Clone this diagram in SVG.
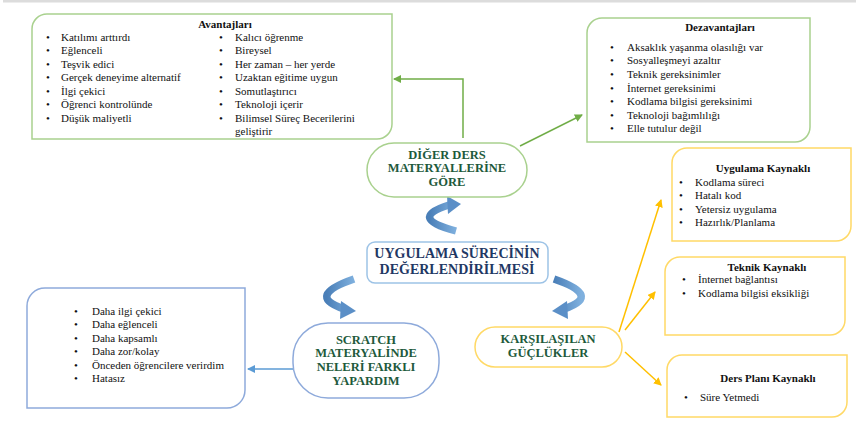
<svg xmlns="http://www.w3.org/2000/svg" width="856" height="421" viewBox="0 0 856 421">
<style>
.t{font-family:"Liberation Serif","Times New Roman",serif;font-size:11px;fill:#111}
.h{font-family:"Liberation Serif","Times New Roman",serif;font-size:11px;font-weight:bold;fill:#111}
.ng{font-family:"Liberation Serif","Times New Roman",serif;font-size:12.5px;font-weight:bold;fill:#1e5a3c;text-anchor:middle}
.nb{font-family:"Liberation Serif","Times New Roman",serif;font-size:14px;font-weight:bold;fill:#1f3864;text-anchor:middle}
.gb{fill:#fff;stroke:#a9d18e;stroke-width:1.5}
.yb{fill:#fff;stroke:#ffd966;stroke-width:1.5}
.bb{fill:#fff;stroke:#8eaadb;stroke-width:1.5}
.ga{stroke:#70ad47;stroke-width:1.5;fill:none}
.ya{stroke:#ffc000;stroke-width:1.5;fill:none}
.ba{stroke:#5b9bd5;stroke-width:1.5;fill:none}
.ca{fill:none;stroke:url(#cg);stroke-width:7.5}
.ch{fill:#5b8fc7}
</style>
<defs>
<marker id="mg" markerWidth="8" markerHeight="8" refX="7" refY="4" orient="auto" markerUnits="userSpaceOnUse"><path d="M0,0 L8,4 L0,8 Z" fill="#70ad47"/></marker>
<marker id="my" markerWidth="8" markerHeight="8" refX="7" refY="4" orient="auto" markerUnits="userSpaceOnUse"><path d="M0,0 L8,4 L0,8 Z" fill="#ffc000"/></marker>
<marker id="mb" markerWidth="8" markerHeight="8" refX="7" refY="4" orient="auto" markerUnits="userSpaceOnUse"><path d="M0,0 L8,4 L0,8 Z" fill="#5b9bd5"/></marker>
<linearGradient id="cg" x1="0" y1="0" x2="1" y2="0"><stop offset="0" stop-color="#4a7fb8"/><stop offset="1" stop-color="#7fb0de"/></linearGradient>
</defs>
<rect x="3" y="0" width="853" height="2.5" fill="#dcdcdc"/>

<g id="connectors">
<polyline class="ga" points="463,138 463,79 394,79" marker-end="url(#mg)"/>
<line class="ga" x1="520" y1="146" x2="582" y2="115" marker-end="url(#mg)"/>
<line class="ya" x1="619" y1="332" x2="661" y2="200" marker-end="url(#my)"/>
<line class="ya" x1="625" y1="330" x2="655" y2="292" marker-end="url(#my)"/>
<line class="ya" x1="625" y1="352" x2="661" y2="385" marker-end="url(#my)"/>
<line class="ba" x1="293" y1="369" x2="248" y2="369" marker-end="url(#mb)"/>
<path class="ca" d="M456,231 Q407,218 449,205"/>
<path class="ch" d="M447,196 L461,204 L448,214 Z"/>
<path class="ca" d="M354,279 Q305,296 344,309"/>
<path class="ch" d="M341,301 L356,311 L340,319 Z"/>
<path class="ca" d="M554,279 Q603,296 564,309"/>
<path class="ch" d="M567,301 L552,311 L568,319 Z"/>
</g>

<g id="avantajlari">
<path class="gb" d="M47,14 H392 V124 A15,15 0 0 1 377,139 H32 V29 A15,15 0 0 1 47,14 Z"/>
<text class="h" x="225" y="28" text-anchor="middle">Avantajları</text>
<g class="t">
<text x="46" y="41">•</text><text x="61" y="41">Katılımı arttırdı</text>
<text x="46" y="54">•</text><text x="61" y="54">Eğlenceli</text>
<text x="46" y="68">•</text><text x="61" y="68">Teşvik edici</text>
<text x="46" y="81">•</text><text x="61" y="81">Gerçek deneyime alternatif</text>
<text x="46" y="95">•</text><text x="61" y="95">İlgi çekici</text>
<text x="46" y="108">•</text><text x="61" y="108">Öğrenci kontrolünde</text>
<text x="46" y="122">•</text><text x="61" y="122">Düşük maliyetli</text>
<text x="219" y="41">•</text><text x="235" y="41">Kalıcı öğrenme</text>
<text x="219" y="54">•</text><text x="235" y="54">Bireysel</text>
<text x="219" y="68">•</text><text x="235" y="68">Her zaman – her yerde</text>
<text x="219" y="81">•</text><text x="235" y="81">Uzaktan eğitime uygun</text>
<text x="219" y="95">•</text><text x="235" y="95">Somutlaştırıcı</text>
<text x="219" y="108">•</text><text x="235" y="108">Teknoloji içerir</text>
<text x="219" y="122">•</text><text x="235" y="122">Bilimsel Süreç Becerilerini</text>
<text x="235" y="135">geliştirir</text>
</g>
</g>

<g id="dezavantajlari">
<path class="gb" d="M602,18 H810 V127 A15,15 0 0 1 795,142 H587 V33 A15,15 0 0 1 602,18 Z"/>
<text class="h" x="720" y="31" text-anchor="middle">Dezavantajları</text>
<g class="t">
<text x="610" y="51">•</text><text x="627" y="51">Aksaklık yaşanma olasılığı var</text>
<text x="610" y="64">•</text><text x="627" y="64">Sosyalleşmeyi azaltır</text>
<text x="610" y="78">•</text><text x="627" y="78">Teknik gereksinimler</text>
<text x="610" y="92">•</text><text x="627" y="92">İnternet gereksinimi</text>
<text x="610" y="105">•</text><text x="627" y="105">Kodlama bilgisi gereksinimi</text>
<text x="610" y="119">•</text><text x="627" y="119">Teknoloji bağımlılığı</text>
<text x="610" y="132">•</text><text x="627" y="132">Elle tutulur değil</text>
</g>
</g>

<g id="diger-ders">
<rect class="gb" x="367" y="143" width="160" height="54" rx="27"/>
<text class="ng" x="447" y="159">DİĞER DERS</text>
<text class="ng" x="447" y="172">MATERYALLERİNE</text>
<text class="ng" x="447" y="186">GÖRE</text>
</g>

<g id="uygulama-sureci">
<rect x="367" y="242" width="181" height="41" rx="8" fill="#fff" stroke="#9dc3e6" stroke-width="1.5"/>
<text class="nb" x="457" y="258">UYGULAMA SÜRECİNİN</text>
<text class="nb" x="457" y="274">DEĞERLENDİRİLMESİ</text>
</g>

<g id="scratch">
<rect class="bb" x="293" y="323" width="146" height="75" rx="35"/>
<text class="ng" x="366" y="344">SCRATCH</text>
<text class="ng" x="366" y="357">MATERYALİNDE</text>
<text class="ng" x="366" y="371">NELERİ FARKLI</text>
<text class="ng" x="366" y="385">YAPARDIM</text>
</g>

<g id="karsilasilan">
<rect class="yb" x="475" y="327" width="147" height="40" rx="20"/>
<text class="ng" x="548" y="343">KARŞILAŞILAN</text>
<text class="ng" x="548" y="357">GÜÇLÜKLER</text>
</g>

<g id="scratch-list">
<path class="bb" d="M45,288 H245 V390 A18,18 0 0 1 227,408 H27 V306 A18,18 0 0 1 45,288 Z"/>
<g class="t">
<text x="74" y="315">•</text><text x="92" y="315">Daha ilgi çekici</text>
<text x="74" y="328">•</text><text x="92" y="328">Daha eğlenceli</text>
<text x="74" y="342">•</text><text x="92" y="342">Daha kapsamlı</text>
<text x="74" y="355">•</text><text x="92" y="355">Daha zor/kolay</text>
<text x="74" y="369">•</text><text x="92" y="369">Önceden öğrencilere verirdim</text>
<text x="74" y="382">•</text><text x="92" y="382">Hatasız</text>
</g>
</g>

<g id="uygulama-kaynakli">
<path class="yb" d="M687,148 H851 V226 A15,15 0 0 1 836,241 H672 V163 A15,15 0 0 1 687,148 Z"/>
<text class="h" x="763" y="172" text-anchor="middle">Uygulama Kaynaklı</text>
<g class="t">
<text x="679" y="186">•</text><text x="695" y="186">Kodlama süreci</text>
<text x="679" y="199">•</text><text x="695" y="199">Hatalı kod</text>
<text x="679" y="213">•</text><text x="695" y="213">Yetersiz uygulama</text>
<text x="679" y="226">•</text><text x="695" y="226">Hazırlık/Planlama</text>
</g>
</g>

<g id="teknik-kaynakli">
<path class="yb" d="M680,257 H845 V320 A15,15 0 0 1 830,335 H665 V272 A15,15 0 0 1 680,257 Z"/>
<text class="h" x="767" y="271" text-anchor="middle">Teknik Kaynaklı</text>
<g class="t">
<text x="682" y="283">•</text><text x="698" y="283">İnternet bağlantısı</text>
<text x="682" y="297">•</text><text x="698" y="297">Kodlama bilgisi eksikliği</text>
</g>
</g>

<g id="ders-plani-kaynakli">
<path class="yb" d="M682,355 H847 V402 A15,15 0 0 1 832,417 H667 V370 A15,15 0 0 1 682,355 Z"/>
<text class="h" x="768" y="382" text-anchor="middle">Ders Planı Kaynaklı</text>
<g class="t">
<text x="684" y="401">•</text><text x="700" y="401">Süre Yetmedi</text>
</g>
</g>
</svg>
